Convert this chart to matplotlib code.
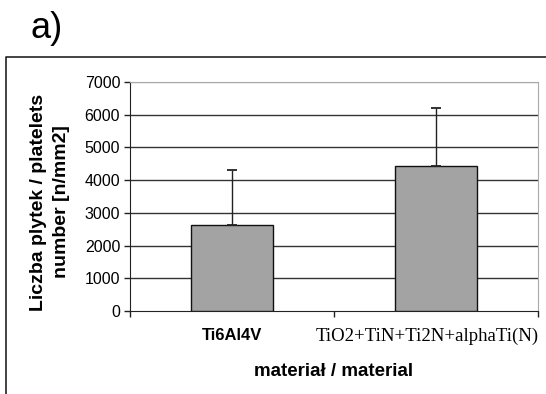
import matplotlib
matplotlib.use("Agg")
import matplotlib.pyplot as plt
from matplotlib.lines import Line2D

# values
materials = ["Ti6Al4V", "TiO2+TiN+Ti2N+alphaTi(N)"]
platelets = [2620, 4430]
platelets_sd = [1700, 1780]
yticks = [0, 1000, 2000, 3000, 4000, 5000, 6000, 7000]

plt.rcParams['font.family'] = ['Liberation Sans', 'DejaVu Sans']

fig = plt.figure(figsize=(5.46, 3.94), dpi=100)
ax = fig.add_axes([0.238, 0.2107, 0.747, 0.5812])

x = list(range(len(materials)))
ax.bar(x, platelets, width=0.4, color='#a3a3a3', edgecolor='#111111', linewidth=1.0, zorder=3)
ax.errorbar(x, platelets, yerr=[[0] * len(x), platelets_sd], fmt='none',
            ecolor='#222222', elinewidth=1.0, capsize=3.5, capthick=1.3, zorder=4)

ax.set_xlim(-0.5, len(x) - 0.5)
ax.set_ylim(0, 7000)
ax.set_yticks(yticks)
ax.set_yticklabels([str(v) for v in yticks], fontsize=11.5)
ax.tick_params(axis='y', length=4, width=1, color='#222222', pad=3)

# gridlines: dark, top one light gray like the plot-area border
for v in yticks[1:-1]:
    ax.axhline(v, color='#333333', linewidth=1.0, zorder=1)
ax.axhline(7000, color='#aaaaaa', linewidth=1.0, zorder=1)

for side in ['top', 'right']:
    ax.spines[side].set_color('#aaaaaa')
ax.spines['left'].set_color('#222222')
ax.spines['bottom'].set_color('#222222')

# ticks at category boundaries, labels near centres (long label nudged left to fit)
ax.set_xticks([i - 0.5 for i in range(len(x) + 1)])
ax.set_xticklabels([])
ax.tick_params(axis='x', which='major', length=4, width=1, color='#222222', direction='out')
ax.set_xticks([0, 0.96], minor=True)
ax.set_xticklabels(materials, minor=True)
ax.tick_params(axis='x', which='minor', length=0, pad=12)
lbls = ax.get_xticklabels(minor=True)
lbls[0].set_fontweight('bold')
lbls[0].set_fontsize(12)
lbls[1].set_family('Liberation Serif')
lbls[1].set_fontsize(13.5)

ax.set_xlabel("materiał / material", fontsize=13.5, fontweight='bold')
ax.xaxis.set_label_coords(0.5, -0.225)

fig.text(50 / 546, 1 - 202 / 394, "Liczba plytek / platelets\nnumber [n/mm2]", rotation=90,
         ha='center', va='center', fontsize=14, fontweight='bold', linespacing=1.45)

fig.text(30 / 546, 1 - 28 / 394, "a)", fontsize=26, ha='left', va='center')

# outer frame (left and top edges, the rest runs off the image)
fig.add_artist(Line2D([6 / 546, 6 / 546, 1.0], [0.0, 1 - 57 / 394, 1 - 57 / 394],
                      transform=fig.transFigure, color='#222222', linewidth=1.2))

fig.savefig("out.png", dpi=100)
